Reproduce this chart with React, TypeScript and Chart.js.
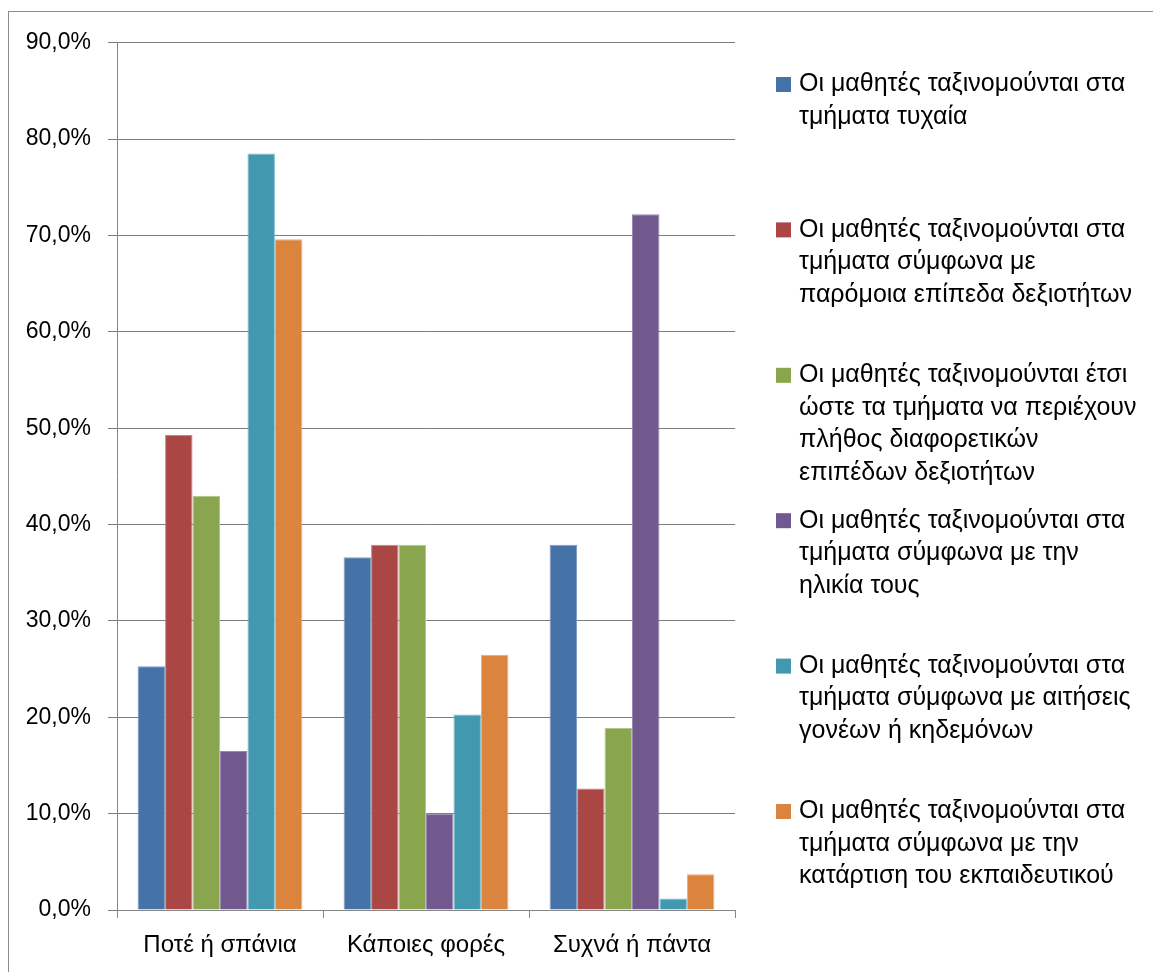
import React, { useEffect, useRef } from "react";
import { Chart, registerables } from "chart.js";

Chart.register(...registerables);

const categories = ["Ποτέ ή σπάνια", "Κάποιες φορές", "Συχνά ή πάντα"];

const randomly = [25.3, 36.6, 37.9];
const similarAbility = [49.3, 37.9, 12.6];
const mixedAbility = [43.0, 37.9, 18.9];
const byAge = [16.5, 10.0, 72.2];
const parentRequests = [78.5, 20.3, 1.2];
const teacherTraining = [69.6, 26.5, 3.7];

const seriesLines: string[][] = [
  ["Οι μαθητές ταξινομούνται στα", "τμήματα τυχαία"],
  ["Οι μαθητές ταξινομούνται στα", "τμήματα σύμφωνα με", "παρόμοια επίπεδα δεξιοτήτων"],
  ["Οι μαθητές ταξινομούνται έτσι", "ώστε τα τμήματα να περιέχουν", "πλήθος διαφορετικών", "επιπέδων δεξιοτήτων"],
  ["Οι μαθητές ταξινομούνται στα", "τμήματα σύμφωνα με την", "ηλικία τους"],
  ["Οι μαθητές ταξινομούνται στα", "τμήματα σύμφωνα με αιτήσεις", "γονέων ή κηδεμόνων"],
  ["Οι μαθητές ταξινομούνται στα", "τμήματα σύμφωνα με την", "κατάρτιση του εκπαιδευτικού"],
];

const seriesValues = [randomly, similarAbility, mixedAbility, byAge, parentRequests, teacherTraining];
const seriesColors = ["#4572A7", "#AA4643", "#89A54E", "#71588F", "#4198AF", "#DB843D"];
const seriesEdges = ["#7D9CC4", "#C88583", "#B1C78F", "#9A88B0", "#80BCCC", "#EBAE7E"];

const yMin = 0;
const yMax = 90;
const yStep = 10;

const FONT = "'Liberation Sans', Arial, sans-serif";

const legendPlugin = {
  id: "sideLegend",
  afterDraw(chart: any) {
    const ctx = chart.ctx;
    ctx.save();
    const sqX = 767;
    const txtX = 790;
    const firstY = 72.5;
    const slot = 145.4;
    const lineH = 32.5;
    ctx.font = `25px ${FONT}`;
    ctx.textBaseline = "middle";
    ctx.textAlign = "left";
    chart.data.datasets.forEach((ds: any, i: number) => {
      const y0 = firstY + i * slot;
      ctx.fillStyle = ds.backgroundColor;
      ctx.fillRect(sqX, y0 - 7.5, 15, 15);
      ctx.fillStyle = "#000000";
      (ds.lines as string[]).forEach((ln: string, j: number) => {
        ctx.fillText(ln, txtX, y0 + j * lineH);
      });
    });
    ctx.restore();
  },
};

export default function App() {
  const ref = useRef<HTMLCanvasElement | null>(null);

  useEffect(() => {
    if (!ref.current) return;
    const chart = new Chart(ref.current, {
      type: "bar",
      data: {
        labels: categories,
        datasets: seriesValues.map((vals, i) => ({
          label: seriesLines[i].join(" "),
          lines: seriesLines[i],
          data: vals,
          backgroundColor: seriesColors[i],
          borderColor: seriesEdges[i],
          borderWidth: 1,
          categoryPercentage: 0.8,
          barPercentage: 1.0,
        })) as any,
      },
      options: {
        animation: false,
        responsive: false,
        maintainAspectRatio: false,
        layout: { padding: { left: 0, right: 426, top: 29, bottom: 0 } },
        plugins: {
          legend: { display: false },
          tooltip: { enabled: false },
          title: { display: false },
        },
        scales: {
          x: {
            offset: true,
            grid: {
              offset: true,
              drawOnChartArea: false,
              drawTicks: true,
              tickLength: 8,
              color: "#868686",
              lineWidth: 1,
            },
            border: { display: true, color: "#868686", width: 1 },
            ticks: {
              color: "#000000",
              font: { family: FONT, size: 24 },
              padding: 13,
              maxRotation: 0,
            },
            afterFit(scale: any) {
              scale.height = 62;
            },
          },
          y: {
            min: yMin,
            max: yMax,
            grid: {
              color: "#7c7c7c",
              lineWidth: 1,
              drawTicks: true,
              tickLength: 9,
            },
            border: { display: true, color: "#868686", width: 1 },
            ticks: {
              stepSize: yStep,
              color: "#000000",
              font: { family: FONT, size: 23 },
              padding: 17,
              callback: (v: any) => Number(v).toFixed(1).replace(".", ",") + "%",
            },
            afterFit(scale: any) {
              scale.width = 108;
            },
          },
        },
      },
      plugins: [legendPlugin],
    });
    return () => chart.destroy();
  }, []);

  return (
    <div
      style={{
        marginTop: 3,
        borderLeft: "1px solid #8c8c8c",
        borderTop: "1px solid #8c8c8c",
        width: 1152,
        height: 960,
        background: "#ffffff",
      }}
    >
      <canvas ref={ref} width={1152} height={960} style={{ display: "block", width: 1152, height: 960 }} />
    </div>
  );
}
